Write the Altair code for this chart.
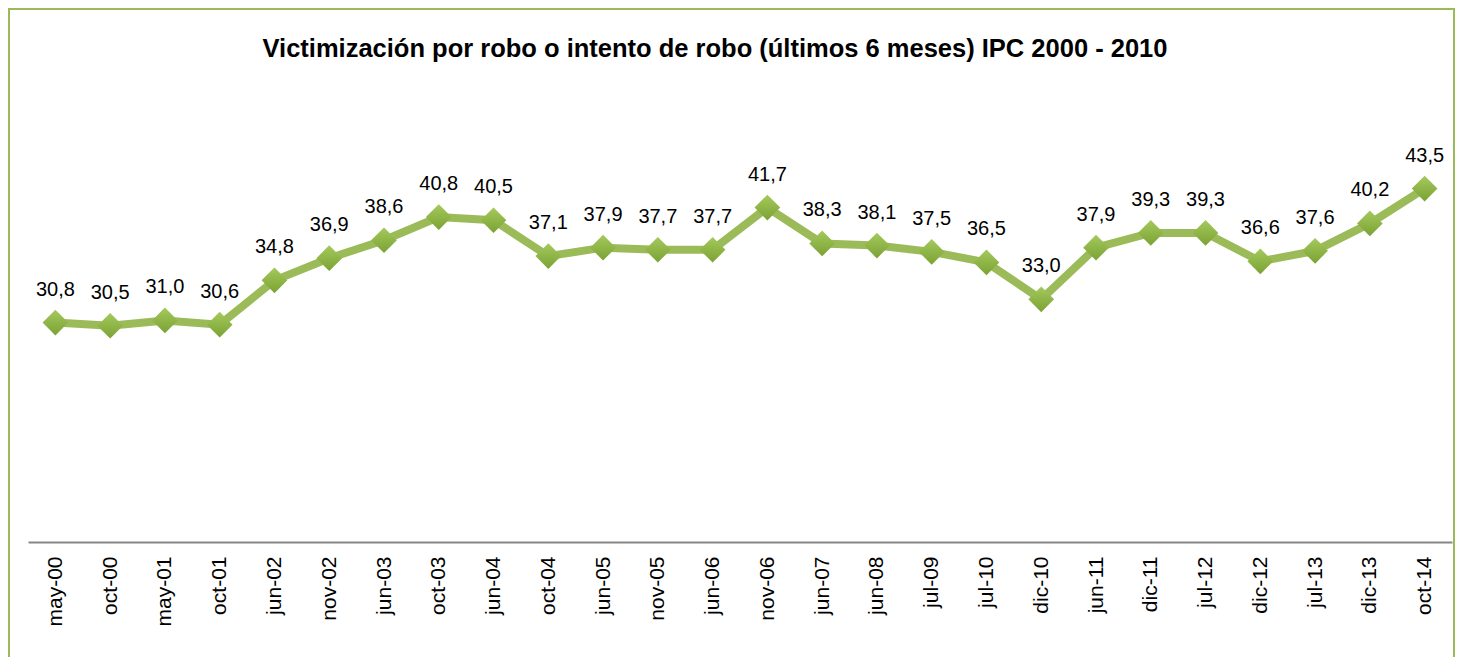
import altair as alt
import pandas as pd

periods = ["may-00", "oct-00", "may-01", "oct-01", "jun-02", "nov-02", "jun-03", "oct-03",
           "jun-04", "oct-04", "jun-05", "nov-05", "jun-06", "nov-06", "jun-07", "jun-08",
           "jul-09", "jul-10", "dic-10", "jun-11", "dic-11", "jul-12", "dic-12", "jul-13",
           "dic-13", "oct-14"]
values = [30.8, 30.5, 31.0, 30.6, 34.8, 36.9, 38.6, 40.8, 40.5, 37.1, 37.9, 37.7, 37.7,
          41.7, 38.3, 38.1, 37.5, 36.5, 33.0, 37.9, 39.3, 39.3, 36.6, 37.6, 40.2, 43.5]

df = pd.DataFrame({"periodo": periods, "valor": values})
df["etiqueta"] = [f"{v:.1f}".replace(".", ",") for v in values]

GREEN = "#9BBB59"
FONT = "Liberation Sans"
W, H = 1424, 422

x = alt.X("periodo:N", sort=periods, title=None,
          scale=alt.Scale(type="point", padding=0.5),
          axis=alt.Axis(labelAngle=270, labelFontSize=21, labelFont=FONT, labelColor="#000000",
                        labelPadding=14, ticks=False, grid=False, domainColor="#868686",
                        domainWidth=2, labelAlign="right", labelBaseline="middle"))
y = alt.Y("valor:Q", title=None, scale=alt.Scale(domain=[10, 50], nice=False, zero=False),
          axis=None)

base = alt.Chart(df)

line = base.mark_line(color=GREEN, strokeWidth=8).encode(x=x, y=y)
marker_fill = alt.LinearGradient(
    gradient="linear", x1=0, y1=0, x2=0, y2=1,
    stops=[alt.GradientStop(offset=0, color="#A4C95C"),
           alt.GradientStop(offset=1, color="#7BA234")])
pts = base.mark_point(shape="diamond", filled=True, size=660, fill=marker_fill,
                      strokeWidth=0, opacity=1).encode(x=x, y=y)
labels = base.mark_text(font=FONT, fontSize=20, color="#000000", baseline="alphabetic",
                        align="center", dy=-27).encode(x=x, y=y, text="etiqueta:N")

border = alt.Chart(pd.DataFrame({"a": [0]})).mark_rect(
    fill=None, stroke=GREEN, strokeWidth=2).encode(
    x=alt.value(-19), x2=alt.value(W + 2), y=alt.value(-111), y2=alt.value(H + 140))

chart = alt.layer(border, line, pts, labels).properties(
    width=W, height=H,
    background="#ffffff",
    title=alt.TitleParams(
        "Victimización por robo o intento de robo (últimos 6 meses) IPC 2000 - 2010",
        font=FONT, fontSize=25.5, fontWeight="bold", color="#000000",
        anchor="middle", frame="group", baseline="alphabetic", offset=-74, dx=-25),
    autosize=alt.AutoSizeParams(type="none"),
    padding={"left": 20, "top": 112, "right": 3, "bottom": 115},
).configure_view(strokeWidth=0, stroke="transparent")

chart.save("out.html", embed_options={"renderer": "svg", "actions": False})
